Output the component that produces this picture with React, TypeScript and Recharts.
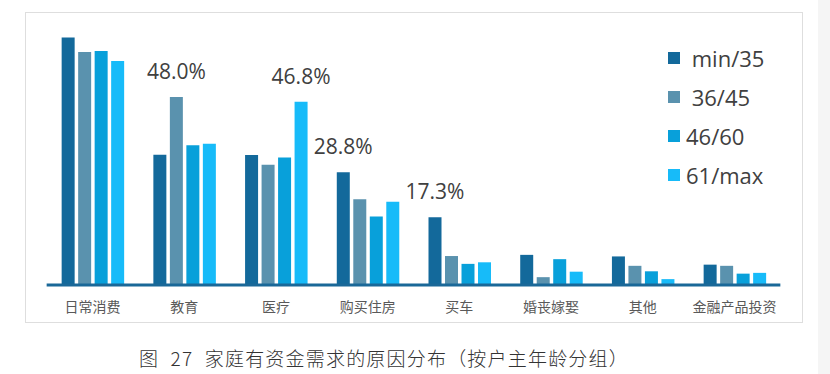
import { BarChart, Bar, XAxis, YAxis, LabelList } from 'recharts'

const categories = ['日常消费', '教育', '医疗', '购买住房', '买车', '婚丧嫁娶', '其他', '金融产品投资']

const min35 = [63.2, 33.3, 33.2, 28.8, 17.3, 7.7, 7.3, 5.2]
const age3645 = [59.5, 48.0, 30.7, 21.9, 7.4, 2.0, 4.9, 4.9]
const age4660 = [59.8, 35.7, 32.6, 17.5, 5.4, 6.6, 3.5, 2.9]
const age61max = [57.2, 36.1, 46.8, 21.3, 5.8, 3.4, 1.5, 3.1]

// which bars carry a value label in the original
const labeledMin35 = [3, 4]
const labeled3645 = [1]
const labeled4660: number[] = []
const labeled61max = [2]

const seriesNames = [' min/35', ' 36/45', '46/60', '61/max']
const colors = ['#13699b', '#5a92ae', '#08a0da', '#17bbf9']

const caption = '图 27 家庭有资金需求的原因分布（按户主年龄分组）'

const sans = '"Open Sans", "Noto Sans CJK SC", sans-serif'
const cjk = '"Noto Sans CJK SC", "Noto Sans", sans-serif'

const fmt = (v: number, i: number, shown: number[]) => (shown.includes(i) ? `${v.toFixed(1)}%` : '')

const data = categories.map((name, i) => ({
  name,
  min35: min35[i],
  a3645: age3645[i],
  a4660: age4660[i],
  a61max: age61max[i],
  l0: fmt(min35[i], i, labeledMin35),
  l1: fmt(age3645[i], i, labeled3645),
  l2: fmt(age4660[i], i, labeled4660),
  l3: fmt(age61max[i], i, labeled61max),
}))

const series = [
  { key: 'min35', label: 'l0' },
  { key: 'a3645', label: 'l1' },
  { key: 'a4660', label: 'l2' },
  { key: 'a61max', label: 'l3' },
]

const renderTopLabel = (props: any) => {
  const { value } = props
  if (!value) return null
  const vb = props.viewBox || props
  return (
    <text
      x={vb.x + vb.width / 2}
      y={vb.y - 18}
      textAnchor="middle"
      fontSize={21}
      fontFamily={sans}
      fill="#404040"
    >
      {value}
    </text>
  )
}

export default function App() {
  return (
    <div style={{ position: 'absolute', left: 0, top: 0, width: 830, height: 374, background: '#fff', overflow: 'hidden' }}>
      <div style={{ position: 'absolute', left: 818, top: 0, width: 12, height: 374, background: '#f5f5f5' }} />
      <div
        style={{
          position: 'absolute',
          left: 25,
          top: 12,
          width: 778,
          height: 311,
          boxSizing: 'border-box',
          border: '1px solid #dedede',
        }}
      />
      <div style={{ position: 'absolute', left: 0, top: 0 }}>
        <BarChart
          width={830}
          height={374}
          data={data}
          margin={{ top: 11, right: 49.65, bottom: 59, left: 46.65 }}
          barSize={13}
          barGap={3.5}
        >
          <XAxis
            dataKey="name"
            interval={0}
            height={30}
            tickLine={false}
            tickMargin={11}
            axisLine={{ stroke: '#1a6898', strokeWidth: 3 }}
            tick={{ fontSize: 14, fill: '#595959', fontFamily: cjk }}
          />
          <YAxis hide domain={[0, 70]} />
          {series.map((s, i) => (
            <Bar key={s.key} dataKey={s.key} name={seriesNames[i]} fill={colors[i]} isAnimationActive={false}>
              <LabelList dataKey={s.label} content={renderTopLabel} />
            </Bar>
          ))}
        </BarChart>
      </div>
      <div style={{ position: 'absolute', left: 668, top: 38.8 }}>
        {seriesNames.map((n, i) => (
          <div key={n} style={{ display: 'flex', alignItems: 'center', height: 39 }}>
            <span style={{ width: 12, height: 12, background: colors[i], display: 'inline-block' }} />
            <span
              style={{
                marginLeft: 6,
                fontSize: 22,
                fontFamily: sans,
                color: '#404040',
                whiteSpace: 'pre',
                lineHeight: '39px',
              }}
            >
              {n}
            </span>
          </div>
        ))}
      </div>
      <div
        style={{
          position: 'absolute',
          left: 139,
          top: 346,
          fontSize: 19,
          letterSpacing: 1.2,
          wordSpacing: 6,
          fontFamily: cjk,
          fontWeight: 300,
          color: '#333',
          whiteSpace: 'pre',
          lineHeight: '24px',
        }}
      >
        {caption}
      </div>
    </div>
  )
}
